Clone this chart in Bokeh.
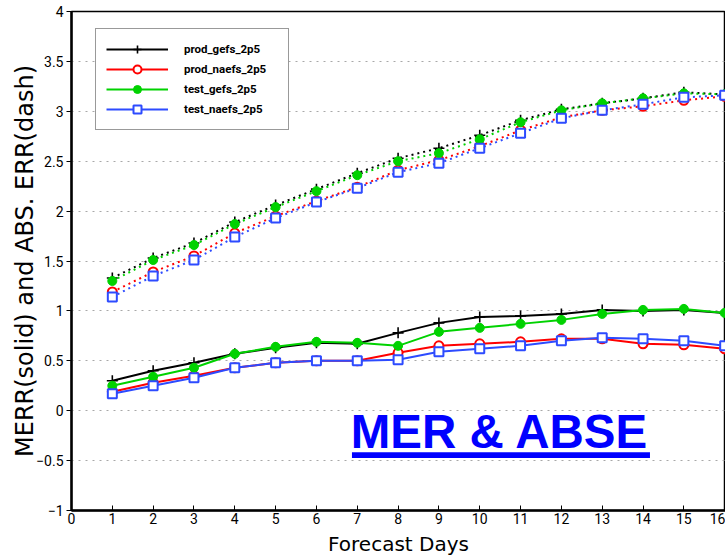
from bokeh.plotting import figure
from bokeh.models import (FixedTicker, Legend, LegendItem, Label, BoxAnnotation,
                          ColumnDataSource, Range1d)
from bokeh.embed import file_html
from bokeh.resources import INLINE

days = list(range(1, 17))

series_names = ["prod_gefs_2p5", "prod_naefs_2p5", "test_gefs_2p5", "test_naefs_2p5"]

# Mean error (solid lines)
prod_gefs_mer = [0.30, 0.40, 0.48, 0.57, 0.63, 0.68, 0.67, 0.78, 0.88, 0.94, 0.95, 0.97, 1.01, 1.00, 1.01, 0.98]
prod_naefs_mer = [0.19, 0.28, 0.35, 0.43, 0.48, 0.50, 0.50, 0.58, 0.65, 0.67, 0.69, 0.72, 0.72, 0.67, 0.66, 0.62]
test_gefs_mer = [0.25, 0.34, 0.43, 0.57, 0.64, 0.69, 0.68, 0.65, 0.79, 0.83, 0.87, 0.91, 0.97, 1.01, 1.02, 0.98]
test_naefs_mer = [0.17, 0.25, 0.33, 0.43, 0.48, 0.50, 0.50, 0.51, 0.59, 0.62, 0.65, 0.70, 0.73, 0.72, 0.70, 0.65]

# Absolute error (dotted lines)
prod_gefs_abs = [1.33, 1.53, 1.68, 1.89, 2.06, 2.22, 2.38, 2.53, 2.63, 2.76, 2.91, 3.02, 3.08, 3.13, 3.19, 3.17]
prod_naefs_abs = [1.19, 1.39, 1.55, 1.78, 1.95, 2.10, 2.24, 2.41, 2.51, 2.65, 2.81, 2.94, 3.01, 3.05, 3.11, 3.15]
test_gefs_abs = [1.30, 1.51, 1.66, 1.87, 2.04, 2.20, 2.36, 2.50, 2.58, 2.72, 2.89, 3.01, 3.08, 3.13, 3.18, 3.17]
test_naefs_abs = [1.14, 1.35, 1.51, 1.74, 1.93, 2.09, 2.23, 2.39, 2.48, 2.63, 2.78, 2.93, 3.01, 3.07, 3.14, 3.16]

x_ticks = list(range(0, 17))
y_ticks = [-1, -0.5, 0, 0.5, 1, 1.5, 2, 2.5, 3, 3.5, 4]

LBL = "DejaVu Sans"
TICK = "Roboto"

p = figure(width=725, height=558, output_backend="svg", toolbar_location=None,
           x_range=Range1d(0, 16.02), y_range=Range1d(-1, 4),
           min_border_left=71, min_border_right=0, min_border_top=11, min_border_bottom=47)
p.background_fill_color = "white"
p.border_fill_color = "white"
p.outline_line_color = "black"
p.outline_line_width = 1.5

p.xgrid.grid_line_color = None
p.ygrid.grid_line_color = "#a8a8a8"
p.ygrid.grid_line_dash = "2 5"
p.ygrid.grid_line_width = 1

p.xaxis.ticker = FixedTicker(ticks=x_ticks)
p.yaxis.ticker = FixedTicker(ticks=y_ticks)
p.xaxis.axis_label = "Forecast Days"
p.yaxis.axis_label = "MERR(solid) and ABS. ERR(dash)"
for ax in (p.xaxis, p.yaxis):
    ax.axis_line_width = 2.5
    ax.axis_line_color = "black"
    ax.major_label_text_font = TICK
    ax.major_label_text_font_size = "14px"
    ax.major_label_text_color = "black"
    ax.axis_label_text_font = LBL
    ax.axis_label_text_font_style = "normal"
    ax.axis_label_text_color = "black"
    ax.minor_tick_line_color = None
p.xaxis.major_tick_out = 0
p.xaxis.major_tick_in = 5
p.xaxis.major_label_standoff = 2
p.xaxis.axis_label_text_font_size = "20px"
p.xaxis.axis_label_standoff = 5
p.yaxis.major_tick_out = 5
p.yaxis.major_tick_in = 0
p.yaxis.major_label_standoff = 3
p.yaxis.axis_label_text_font_size = "24px"
p.yaxis.axis_label_standoff = -6

colors = ["black", "#ff0000", "#00d200", "#2d4bff"]
mers = [prod_gefs_mer, prod_naefs_mer, test_gefs_mer, test_naefs_mer]
abss = [prod_gefs_abs, prod_naefs_abs, test_gefs_abs, test_naefs_abs]
markers = ["cross", "circle", "circle", "square"]

items = []
for name, col, mer, ab, mk in zip(series_names, colors, mers, abss, markers):
    src_m = ColumnDataSource(dict(x=days, y=mer))
    src_a = ColumnDataSource(dict(x=days, y=ab))
    ln = p.line("x", "y", source=src_m, line_color=col, line_width=2)
    p.line("x", "y", source=src_a, line_color=col, line_width=2, line_dash="2 4")
    if mk == "cross":
        kw = dict(size=11, line_color=col, line_width=1.6)
    elif name == "test_gefs_2p5":
        kw = dict(size=9, line_color=col, fill_color=col, line_width=1)
    else:
        kw = dict(size=9, line_color=col, fill_color="white", line_width=2)
    sc = p.scatter("x", "y", source=src_m, marker=mk, **kw)
    p.scatter("x", "y", source=src_a, marker=mk, **kw)
    items.append(LegendItem(label=name, renderers=[ln, sc]))

legend = Legend(items=items, location=(24, 380), orientation="vertical",
                glyph_width=62, glyph_height=20, label_height=20, label_width=94,
                spacing=0, padding=10, margin=0, label_standoff=16,
                label_text_font=TICK, label_text_font_style="bold",
                label_text_font_size="11.5px", label_text_color="black",
                border_line_color="#333333", border_line_width=1.2,
                background_fill_color="white", background_fill_alpha=1)
p.add_layout(legend, "center")

title_lbl = Label(x=6.84, y=-0.205, x_units="data", y_units="data",
                  text="MER & ABSE", text_font="Liberation Sans", text_font_style="bold",
                  text_font_size="47.5px", text_color="#0000ff", text_baseline="alphabetic",
                  text_align="left")
p.add_layout(title_lbl)
underline = BoxAnnotation(left=6.87, right=14.17, top=-0.417, bottom=-0.473,
                          fill_color="#0000ff", fill_alpha=1, line_color=None)
p.add_layout(underline)

open("out.html", "w").write(file_html(p, INLINE))
